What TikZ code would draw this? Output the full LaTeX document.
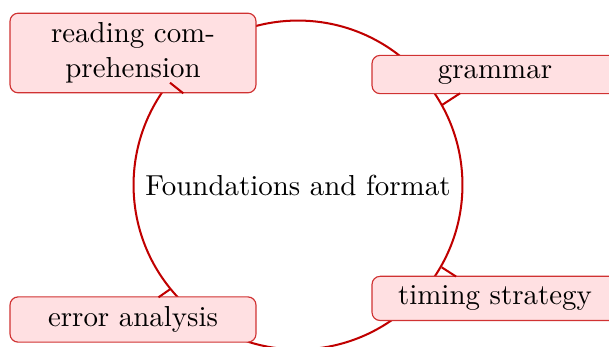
\documentclass[tikz,border=0pt]{standalone}
\begin{document}
\definecolor{ringred}{RGB}{192,0,0}
\definecolor{boxline}{RGB}{208,50,50}
\definecolor{boxfill}{RGB}{255,224,226}
\begin{tikzpicture}[x=0.346pt,y=-0.346pt,
  topic/.style={draw=boxline, fill=boxfill, line width=0.4pt, rounded corners=2.8pt,
    minimum width=85.1pt, inner sep=3.33pt, align=center},
  hub/.style={circle, draw=ringred, line width=0.7pt, minimum size=113.8pt, inner sep=0pt},
  tick/.style={draw=ringred, line width=0.7pt}]
\useasboundingbox (0,0) rectangle (609,346);
\clip (0,0) rectangle (609,346);
\node[hub] (hubnode) at (298,185) {Foundations and format};
\node[topic] (reading) at (133,53) {reading com-\\prehension};
\node[topic] (grammar) at (495,74.5) {grammar};
\node[topic] (error) at (133,319.5) {error analysis};
\node[topic] (timing) at (495,298.4) {timing strategy};
\coordinate (a1) at (170,82.7);
\coordinate (a2) at (183.3,93.3);
\coordinate (b1) at (442,105);
\coordinate (b2) at (460,93.3);
\coordinate (c1) at (170,289.3);
\coordinate (c2) at (158.5,297.3);
\coordinate (d1) at (441.7,267.3);
\coordinate (d2) at (456,276.5);
\draw[tick] (a1) -- (a2);
\draw[tick] (b1) -- (b2);
\draw[tick] (c1) -- (c2);
\draw[tick] (d1) -- (d2);
\end{tikzpicture}
\end{document}
